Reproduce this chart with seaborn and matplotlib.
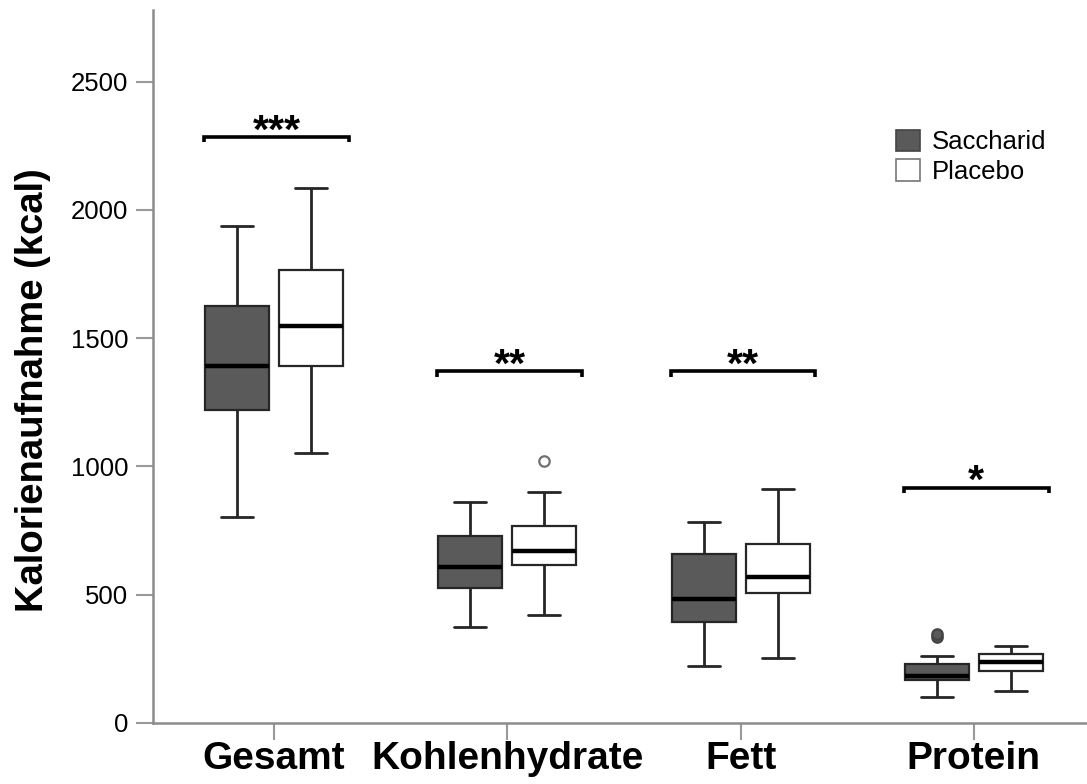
import numpy as np
import pandas as pd
import matplotlib
matplotlib.use("Agg")
import matplotlib.pyplot as plt
import seaborn as sns
from matplotlib.patches import Patch

categories = ["Gesamt", "Kohlenhydrate", "Fett", "Protein"]
groups = ["Saccharid", "Placebo"]

# Box-plot summaries (kcal)
sacch_whisker_lo = [801, 374, 220, 99]
sacch_q1 = [1218, 526, 391, 165]
sacch_median = [1391, 609, 482, 182]
sacch_q3 = [1627, 727, 657, 227]
sacch_whisker_hi = [1936, 862, 782, 261]
sacch_outliers = [[], [], [], [333, 346]]

plac_whisker_lo = [1052, 422, 252, 122]
plac_q1 = [1391, 616, 505, 203]
plac_median = [1549, 668, 568, 235]
plac_q3 = [1766, 766, 699, 268]
plac_whisker_hi = [2086, 898, 912, 299]
plac_outliers = [[], [1022], [], []]

sig_labels = ["***", "**", "**", "*"]
sig_heights = [2286, 1371, 1371, 917]

yticks = [0, 500, 1000, 1500, 2000, 2500]


def values_from_summary(lo, q1, med, q3, hi, outs):
    # 13 values whose linear-interpolated quartiles are exactly q1/med/q3
    upper = [hi] * (3 - len(outs)) + list(outs)
    return [lo, lo, lo, q1, q1, q1, med, q3, q3, q3] + upper


rows = []
summ = {
    "Saccharid": (sacch_whisker_lo, sacch_q1, sacch_median, sacch_q3, sacch_whisker_hi, sacch_outliers),
    "Placebo": (plac_whisker_lo, plac_q1, plac_median, plac_q3, plac_whisker_hi, plac_outliers),
}
for g in groups:
    lo, q1, med, q3, hi, outs = summ[g]
    for i, c in enumerate(categories):
        for v in values_from_summary(lo[i], q1[i], med[i], q3[i], hi[i], outs[i]):
            rows.append({"Kategorie": c, "Gruppe": g, "kcal": v})
df = pd.DataFrame(rows)

sns.set_style("ticks")
plt.rcParams["font.family"] = ["Liberation Sans", "DejaVu Sans"]
plt.rcParams["text.color"] = "black"
plt.rcParams["axes.labelcolor"] = "black"
plt.rcParams["xtick.labelcolor"] = "black"
plt.rcParams["ytick.labelcolor"] = "black"

fig = plt.figure(figsize=(10.87, 7.84), dpi=100)
ax = fig.add_axes([0.1408, 0.0782, 0.8592, 0.909])

dark = "#5a5a5a"
line_c = "#262626"
sns.boxplot(
    data=df, x="Kategorie", y="kcal", hue="Gruppe",
    order=categories, hue_order=groups,
    palette={"Saccharid": dark, "Placebo": "white"},
    width=0.634, gap=0.135, linecolor=line_c, linewidth=1.6,
    whis=1.5, legend=False, ax=ax,
    medianprops={"linewidth": 3.2, "color": "black"},
    whiskerprops={"linewidth": 2.0},
    capprops={"linewidth": 2.0},
    boxprops={"linewidth": 1.6},
    flierprops={"marker": "o", "markersize": 7.5, "markerfacecolor": "white",
                "markeredgecolor": "#707070", "markeredgewidth": 1.6},
)

# Saccharid outliers are filled
for ln in ax.lines:
    xd = np.asarray(ln.get_xdata(), dtype=float)
    if ln.get_marker() == "o" and xd.size > 0:
        if xd[0] - np.round(xd[0]) < 0:
            ln.set_markerfacecolor(dark)
            ln.set_markeredgecolor("#444444")

# significance brackets
for i, (lab, h) in enumerate(zip(sig_labels, sig_heights)):
    x0, x1 = i - 0.30, i + 0.32
    ax.plot([x0, x0, x1, x1], [h - 22, h, h, h - 22], color="black", lw=2.6,
            solid_capstyle="butt", solid_joinstyle="miter")
    ax.text((x0 + x1) / 2, h - 22, lab, ha="center", va="baseline",
            fontsize=29.5, fontweight="bold", color="black")

ax.set_xlim(-0.519, 3.485)
ax.set_ylim(0, 2780)
ax.set_yticks(yticks)
ax.set_yticklabels([str(t) for t in yticks])
ax.set_xlabel("")
ax.set_ylabel("Kalorienaufnahme (kcal)", fontsize=27.5, fontweight="bold", color="black")
ax.yaxis.set_label_coords(-0.109, 0.467)

for lab in ax.get_xticklabels():
    lab.set_fontweight("bold")
    lab.set_fontsize(28)
    lab.set_color("black")
ax.tick_params(axis="y", labelsize=18.5, length=12.5, width=1.5, color="#999999",
               pad=5.5, labelcolor="black")
ax.tick_params(axis="x", length=12.5, width=1.5, color="#999999", pad=1, labelcolor="black")

sns.despine(ax=ax)
for s in ["left", "bottom"]:
    ax.spines[s].set_color("#8c8c8c")
    ax.spines[s].set_linewidth(1.8)

handles = [Patch(facecolor=dark, edgecolor="#444444", linewidth=1.2, label="Saccharid"),
           Patch(facecolor="white", edgecolor="#777777", linewidth=1.2, label="Placebo")]
leg = ax.legend(handles=handles, loc="upper left", bbox_to_anchor=(0.7955, 0.832),
                frameon=False, fontsize=18.5, handlelength=0.93, handleheight=0.9,
                handletextpad=0.45, labelspacing=0.2, borderpad=0, borderaxespad=0,
                labelcolor="black")

fig.savefig("out.png", dpi=100)
